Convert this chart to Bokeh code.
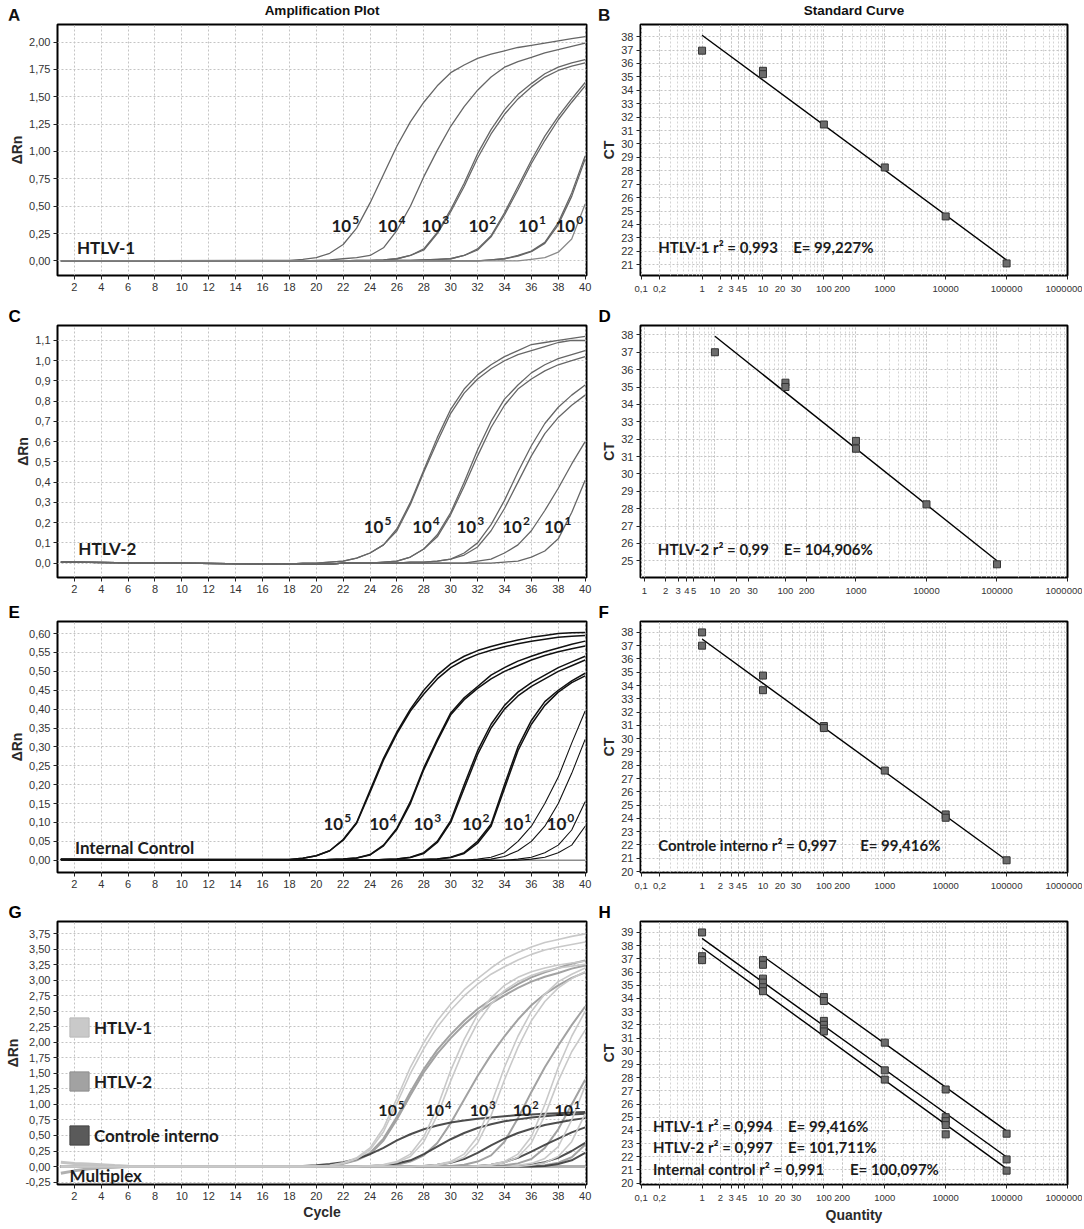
import numpy as np
from bokeh.plotting import figure
from bokeh.models import (Range1d, FixedTicker, CustomJSTickFormatter, Label,
                          Legend, LegendItem, Title, Div)
from bokeh.layouts import column, row
from bokeh.embed import file_html
from bokeh.resources import INLINE

# ----------------------------------------------------------------- data
CYCLES = [1, 18, 19, 20, 21, 22, 23, 24, 25, 26, 27, 28, 29, 30, 31, 32,
          33, 34, 35, 36, 37, 38, 39, 40]
CYCLE_TICKS = [2, 4, 6, 8, 10, 12, 14, 16, 18, 20, 22, 24, 26, 28, 30, 32,
               34, 36, 38, 40]
DILUTION_EXPONENTS = ["5", "4", "3", "2", "1", "0"]   # labels 10^5 ... 10^0

# Panel A - HTLV-1 amplification (delta Rn per cycle)
A_1E5 = [0.0, 0.005, 0.015, 0.03, 0.07, 0.15, 0.3, 0.53, 0.79, 1.05, 1.27, 1.45,
         1.6, 1.72, 1.79, 1.85, 1.89, 1.92, 1.95, 1.97, 1.99, 2.01, 2.03, 2.05]
A_1E4 = [0.0, 0.0, 0.0, 0.005, 0.01, 0.02, 0.03, 0.05, 0.12, 0.28, 0.5, 0.77,
         1.01, 1.23, 1.41, 1.56, 1.68, 1.77, 1.82, 1.86, 1.9, 1.93, 1.96, 1.99]
A_1E3 = [0.0, 0.0, 0.0, 0.0, 0.0, 0.0, 0.005, 0.005, 0.01, 0.02, 0.05, 0.11,
         0.26, 0.47, 0.71, 0.98, 1.2, 1.38, 1.52, 1.62, 1.71, 1.77, 1.81, 1.84]
A_1E3B = [0.0, 0.0, 0.0, 0.0, 0.0, 0.0, 0.005, 0.005, 0.01, 0.02, 0.05, 0.1,
          0.25, 0.45, 0.68, 0.94, 1.16, 1.34, 1.48, 1.59, 1.68, 1.74, 1.78, 1.81]
A_1E2 = [0.0, 0.0, 0.0, 0.0, 0.0, 0.0, 0.0, 0.0, 0.0, 0.005, 0.005, 0.01,
         0.015, 0.02, 0.05, 0.11, 0.23, 0.44, 0.68, 0.92, 1.14, 1.32, 1.48, 1.63]
A_1E2B = [0.0, 0.0, 0.0, 0.0, 0.0, 0.0, 0.0, 0.0, 0.0, 0.005, 0.005, 0.01,
          0.015, 0.02, 0.05, 0.1, 0.22, 0.42, 0.65, 0.89, 1.1, 1.29, 1.45, 1.6]
A_1E1 = [0.0, 0.0, 0.0, 0.0, 0.0, 0.0, 0.0, 0.0, 0.0, 0.0, 0.0, 0.0,
         0.0, 0.0, 0.0, 0.0, 0.01, 0.02, 0.05, 0.09, 0.17, 0.35, 0.62, 0.96]
A_1E1B = [0.0, 0.0, 0.0, 0.0, 0.0, 0.0, 0.0, 0.0, 0.0, 0.0, 0.0, 0.0,
          0.0, 0.0, 0.0, 0.0, 0.01, 0.02, 0.045, 0.085, 0.16, 0.33, 0.59, 0.93]
A_1E0 = [0.0, 0.0, 0.0, 0.0, 0.0, 0.0, 0.0, 0.0, 0.0, 0.0, 0.0, 0.0,
         0.0, 0.0, 0.0, 0.0, 0.0, 0.0, 0.0, 0.015, 0.03, 0.08, 0.2, 0.52]

# Panel C - HTLV-2 amplification
C_1E5 = [0.005, -0.005, 0.0, 0.0, 0.005, 0.01, 0.025, 0.05, 0.09, 0.17, 0.3, 0.46,
         0.62, 0.76, 0.86, 0.93, 0.98, 1.02, 1.05, 1.08, 1.09, 1.1, 1.11, 1.12]
C_1E5B = [0.005, -0.005, 0.0, 0.0, 0.005, 0.01, 0.025, 0.05, 0.09, 0.16, 0.29, 0.45,
          0.6, 0.74, 0.84, 0.91, 0.96, 1.0, 1.03, 1.05, 1.07, 1.09, 1.1, 1.1]
C_1E4 = [0.005, -0.005, -0.005, -0.005, -0.005, 0.0, 0.0, 0.0, 0.005, 0.01, 0.03, 0.07,
         0.14, 0.25, 0.4, 0.56, 0.7, 0.81, 0.88, 0.94, 0.98, 1.01, 1.03, 1.05]
C_1E4B = [0.005, -0.005, -0.005, -0.005, -0.005, 0.0, 0.0, 0.0, 0.005, 0.01, 0.03, 0.07,
          0.13, 0.24, 0.38, 0.53, 0.67, 0.78, 0.86, 0.91, 0.95, 0.98, 1.0, 1.02]
C_1E3 = [0.005, -0.005, -0.005, -0.005, -0.005, 0.0, 0.0, 0.0, 0.0, 0.0, 0.005, 0.005,
         0.01, 0.02, 0.05, 0.1, 0.19, 0.31, 0.45, 0.58, 0.69, 0.77, 0.83, 0.88]
C_1E3B = [0.005, -0.005, -0.005, -0.005, -0.005, 0.0, 0.0, 0.0, 0.0, 0.0, 0.005, 0.005,
          0.01, 0.02, 0.04, 0.08, 0.16, 0.27, 0.4, 0.53, 0.64, 0.72, 0.78, 0.83]
C_1E2 = [0.005, -0.005, -0.005, -0.005, -0.005, 0.0, 0.0, 0.0, 0.0, 0.0, 0.0, 0.0,
         0.0, 0.0, 0.0, 0.01, 0.02, 0.05, 0.09, 0.16, 0.26, 0.37, 0.49, 0.6]
C_1E1 = [0.005, -0.005, -0.005, -0.005, -0.005, 0.0, 0.0, 0.0, 0.0, 0.0, 0.0, 0.0,
         0.0, 0.0, 0.0, 0.0, 0.0, 0.005, 0.01, 0.03, 0.06, 0.12, 0.25, 0.41]

# Panel E - internal control amplification
E_1E5 = [0.002, 0.002, 0.005, 0.012, 0.025, 0.055, 0.1, 0.185, 0.27, 0.34, 0.4, 0.45,
         0.49, 0.52, 0.54, 0.555, 0.566, 0.575, 0.583, 0.59, 0.595, 0.6, 0.602, 0.603]
E_1E5B = [0.002, 0.002, 0.005, 0.012, 0.025, 0.053, 0.098, 0.18, 0.265, 0.335, 0.395, 0.44,
          0.48, 0.51, 0.53, 0.545, 0.556, 0.565, 0.573, 0.58, 0.585, 0.59, 0.593, 0.595]
E_1E4 = [0.002, 0.0, 0.0, 0.0, 0.002, 0.003, 0.006, 0.015, 0.04, 0.085, 0.155, 0.245,
         0.32, 0.39, 0.43, 0.46, 0.49, 0.51, 0.527, 0.54, 0.552, 0.562, 0.572, 0.58]
E_1E4B = [0.002, 0.0, 0.0, 0.0, 0.002, 0.003, 0.006, 0.014, 0.038, 0.082, 0.15, 0.24,
          0.315, 0.385, 0.425, 0.455, 0.48, 0.5, 0.515, 0.53, 0.542, 0.552, 0.56, 0.567]
E_1E3 = [0.002, 0.0, 0.0, 0.0, 0.0, 0.0, 0.0, 0.0, 0.002, 0.003, 0.008, 0.02,
         0.05, 0.105, 0.2, 0.29, 0.36, 0.41, 0.445, 0.47, 0.49, 0.51, 0.525, 0.54]
E_1E3B = [0.002, 0.0, 0.0, 0.0, 0.0, 0.0, 0.0, 0.0, 0.002, 0.003, 0.007, 0.018,
          0.047, 0.1, 0.19, 0.28, 0.35, 0.4, 0.435, 0.46, 0.48, 0.5, 0.515, 0.53]
E_1E2 = [0.002, 0.0, 0.0, 0.0, 0.0, 0.0, 0.0, 0.0, 0.0, 0.0, 0.0, 0.002,
         0.003, 0.008, 0.02, 0.05, 0.095, 0.2, 0.3, 0.37, 0.42, 0.45, 0.475, 0.495]
E_1E2B = [0.002, 0.0, 0.0, 0.0, 0.0, 0.0, 0.0, 0.0, 0.0, 0.0, 0.0, 0.002,
          0.003, 0.007, 0.018, 0.045, 0.09, 0.19, 0.29, 0.36, 0.41, 0.445, 0.47, 0.488]
E_1E1 = [0.002, 0.0, 0.0, 0.0, 0.0, 0.0, 0.0, 0.0, 0.0, 0.0, 0.0, 0.0,
         0.0, 0.0, 0.0, 0.003, 0.008, 0.02, 0.05, 0.09, 0.15, 0.22, 0.31, 0.395]
E_1E1B = [0.002, 0.0, 0.0, 0.0, 0.0, 0.0, 0.0, 0.0, 0.0, 0.0, 0.0, 0.0,
          0.0, 0.0, 0.0, 0.0, 0.003, 0.01, 0.025, 0.05, 0.09, 0.15, 0.23, 0.32]
E_1E0 = [0.002, 0.0, 0.0, 0.0, 0.0, 0.0, 0.0, 0.0, 0.0, 0.0, 0.0, 0.0,
         0.0, 0.0, 0.0, 0.0, 0.0, 0.0, 0.003, 0.008, 0.02, 0.04, 0.08, 0.155]
E_1E0B = [0.002, 0.0, 0.0, 0.0, 0.0, 0.0, 0.0, 0.0, 0.0, 0.0, 0.0, 0.0,
          0.0, 0.0, 0.0, 0.0, 0.0, 0.0, 0.0, 0.003, 0.008, 0.02, 0.04, 0.09]
E_NTC_CYCLES = [1, 40]
E_NTC = [0.0, 0.0]

# Panel G - multiplex (L = HTLV-1, M = HTLV-2, D = internal control)
G_L5A = [0.0, 0.0, 0.0, 0.005, 0.02, 0.06, 0.14, 0.3, 0.62, 1.1, 1.6, 2.0,
         2.35, 2.62, 2.85, 3.03, 3.2, 3.35, 3.45, 3.54, 3.61, 3.66, 3.71, 3.75]
G_L5B = [0.0, 0.0, 0.0, 0.005, 0.015, 0.05, 0.12, 0.27, 0.56, 1.02, 1.5, 1.9,
         2.25, 2.52, 2.75, 2.94, 3.1, 3.22, 3.33, 3.42, 3.49, 3.54, 3.58, 3.62]
G_L4A = [0.0, 0.0, 0.0, 0.0, 0.0, 0.0, 0.0, 0.01, 0.03, 0.08, 0.2, 0.48,
         0.95, 1.55, 2.05, 2.45, 2.72, 2.92, 3.05, 3.14, 3.2, 3.25, 3.28, 3.31]
G_L4B = [0.0, 0.0, 0.0, 0.0, 0.0, 0.0, 0.0, 0.008, 0.025, 0.065, 0.16, 0.4,
         0.82, 1.38, 1.9, 2.32, 2.62, 2.84, 2.98, 3.08, 3.15, 3.2, 3.23, 3.26]
G_L3A = [0.0, 0.0, 0.0, 0.0, 0.0, 0.0, 0.0, 0.0, 0.0, 0.0, 0.0, 0.01,
         0.03, 0.08, 0.2, 0.48, 1.0, 1.6, 2.1, 2.5, 2.78, 2.98, 3.1, 3.2]
G_L3B = [0.0, 0.0, 0.0, 0.0, 0.0, 0.0, 0.0, 0.0, 0.0, 0.0, 0.0, 0.008,
         0.02, 0.06, 0.15, 0.38, 0.82, 1.4, 1.92, 2.35, 2.66, 2.88, 3.03, 3.14]
G_L2A = [0.0, 0.0, 0.0, 0.0, 0.0, 0.0, 0.0, 0.0, 0.0, 0.0, 0.0, 0.0,
         0.0, 0.0, 0.0, 0.01, 0.03, 0.08, 0.2, 0.48, 1.0, 1.6, 2.1, 2.5]
G_L2B = [0.0, 0.0, 0.0, 0.0, 0.0, 0.0, 0.0, 0.0, 0.0, 0.0, 0.0, 0.0,
         0.0, 0.0, 0.0, 0.0, 0.02, 0.06, 0.15, 0.38, 0.82, 1.38, 1.85, 2.2]
G_L1A = [0.0, 0.0, 0.0, 0.0, 0.0, 0.0, 0.0, 0.0, 0.0, 0.0, 0.0, 0.0,
         0.0, 0.0, 0.0, 0.0, 0.0, 0.0, 0.02, 0.05, 0.13, 0.32, 0.75, 1.3]
G_L1B = [0.0, 0.0, 0.0, 0.0, 0.0, 0.0, 0.0, 0.0, 0.0, 0.0, 0.0, 0.0,
         0.0, 0.0, 0.0, 0.0, 0.0, 0.0, 0.0, 0.02, 0.06, 0.16, 0.4, 0.85]
G_M5A = [0.0, 0.0, 0.0, 0.005, 0.02, 0.05, 0.11, 0.22, 0.45, 0.8, 1.2, 1.57,
         1.88, 2.13, 2.35, 2.54, 2.69, 2.81, 2.94, 3.05, 3.13, 3.2, 3.27, 3.32]
G_M5B = [0.0, 0.0, 0.0, 0.005, 0.015, 0.045, 0.1, 0.2, 0.42, 0.76, 1.15, 1.52,
         1.82, 2.07, 2.29, 2.48, 2.63, 2.76, 2.88, 2.98, 3.06, 3.12, 3.19, 3.24]
G_M4 = [0.0, 0.0, 0.0, 0.0, 0.0, 0.0, 0.0, 0.005, 0.01, 0.03, 0.08, 0.18,
        0.38, 0.7, 1.08, 1.46, 1.8, 2.1, 2.37, 2.6, 2.78, 2.92, 3.04, 3.13]
G_M3 = [0.0, 0.0, 0.0, 0.0, 0.0, 0.0, 0.0, 0.0, 0.0, 0.0, 0.0, 0.0,
        0.0, 0.01, 0.03, 0.08, 0.18, 0.4, 0.78, 1.2, 1.6, 1.95, 2.28, 2.58]
G_M2 = [0.0, 0.0, 0.0, 0.0, 0.0, 0.0, 0.0, 0.0, 0.0, 0.0, 0.0, 0.0,
        0.0, 0.0, 0.0, 0.0, 0.0, 0.02, 0.05, 0.12, 0.3, 0.6, 1.0, 1.4]
G_M1 = [0.0, 0.0, 0.0, 0.0, 0.0, 0.0, 0.0, 0.0, 0.0, 0.0, 0.0, 0.0,
        0.0, 0.0, 0.0, 0.0, 0.0, 0.0, 0.0, 0.0, 0.02, 0.06, 0.15, 0.35]
G_D5 = [0.0, 0.005, 0.01, 0.02, 0.04, 0.07, 0.12, 0.2, 0.3, 0.42, 0.52, 0.6,
        0.66, 0.71, 0.74, 0.77, 0.79, 0.81, 0.83, 0.84, 0.85, 0.86, 0.87, 0.88]
G_D4 = [0.0, 0.0, 0.0, 0.0, 0.0, 0.0, 0.005, 0.01, 0.02, 0.05, 0.1, 0.2,
        0.32, 0.44, 0.54, 0.62, 0.68, 0.73, 0.76, 0.79, 0.81, 0.83, 0.84, 0.85]
G_D3 = [0.0, 0.0, 0.0, 0.0, 0.0, 0.0, 0.0, 0.0, 0.0, 0.0, 0.005, 0.01,
        0.03, 0.06, 0.12, 0.22, 0.34, 0.45, 0.54, 0.61, 0.67, 0.71, 0.75, 0.78]
G_D2 = [0.0, 0.0, 0.0, 0.0, 0.0, 0.0, 0.0, 0.0, 0.0, 0.0, 0.0, 0.0,
        0.0, 0.0, 0.005, 0.01, 0.03, 0.07, 0.14, 0.24, 0.35, 0.45, 0.55, 0.63]
G_D1 = [0.0, 0.0, 0.0, 0.0, 0.0, 0.0, 0.0, 0.0, 0.0, 0.0, 0.0, 0.0,
        0.0, 0.0, 0.0, 0.0, 0.0, 0.0, 0.01, 0.03, 0.07, 0.14, 0.25, 0.38]
G_D0 = [0.0, 0.0, 0.0, 0.0, 0.0, 0.0, 0.0, 0.0, 0.0, 0.0, 0.0, 0.0,
        0.0, 0.0, 0.0, 0.0, 0.0, 0.0, 0.0, 0.0, 0.01, 0.04, 0.1, 0.22]
G_BASE_CYCLES = [1, 2, 3, 4, 5, 6, 8, 40]
G_BASE_HI = [0.07, 0.05, 0.04, 0.03, 0.015, 0.005, 0.0, 0.0]
G_BASE_LO = [-0.11, -0.07, -0.04, -0.02, -0.01, 0.0, 0.0, 0.0]
G_LEGEND = ["HTLV-1", "HTLV-2", "Controle interno"]

# Standard curves: quantity (copies) vs CT
B_QTY = [1, 10, 10, 100, 1000, 10000, 100000]
B_CT = [36.95, 35.45, 35.2, 31.45, 28.25, 24.6, 21.1]
B_FIT = (-3.35, 38.1)            # slope per decade, intercept at 1 copy
D_QTY = [10, 100, 100, 1000, 1000, 10000, 100000]
D_CT = [37.0, 35.25, 35.0, 31.9, 31.45, 28.25, 24.8]
D_FIT = (-3.23, 41.15)
F_QTY = [1, 1, 10, 10, 100, 100, 1000, 10000, 10000, 100000]
F_CT = [38.0, 37.0, 34.75, 33.65, 30.95, 30.8, 27.6, 24.3, 24.05, 20.85]
F_FIT = (-3.33, 37.5)
H_HTLV1_QTY = [10, 10, 100, 100, 1000, 10000, 100000]
H_HTLV1_CT = [36.9, 36.55, 34.1, 33.8, 30.65, 27.1, 23.75]
H_HTLV1_FIT = (-3.31, 40.51)
H_HTLV2_QTY = [1, 10, 10, 100, 100, 1000, 10000, 10000, 100000]
H_HTLV2_CT = [39.0, 35.5, 35.2, 32.3, 32.0, 28.55, 25.0, 24.7, 21.8]
H_HTLV2_FIT = (-3.314, 38.55)
H_IC_QTY = [1, 1, 10, 10, 100, 100, 1000, 10000, 10000, 100000]
H_IC_CT = [37.2, 36.9, 34.85, 34.55, 31.7, 31.5, 27.85, 24.4, 23.7, 20.95]
H_IC_FIT = (-3.348, 37.84)

LOG_TICKS = [0.1, 0.2, 1, 2, 3, 4, 5, 10, 20, 30, 100, 200, 1000, 10000,
             100000, 1000000]
D_LOG_TICKS = [1, 2, 3, 4, 5, 10, 20, 30, 100, 200, 1000, 10000, 100000, 1000000]
A_YTICKS = [0.0, 0.25, 0.5, 0.75, 1.0, 1.25, 1.5, 1.75, 2.0]
C_YTICKS = [0.0, 0.1, 0.2, 0.3, 0.4, 0.5, 0.6, 0.7, 0.8, 0.9, 1.0, 1.1]
E_YTICKS = [0.0, 0.05, 0.1, 0.15, 0.2, 0.25, 0.3, 0.35, 0.4, 0.45, 0.5, 0.55, 0.6]
G_YTICKS = [-0.25, 0.0, 0.25, 0.5, 0.75, 1.0, 1.25, 1.5, 1.75, 2.0, 2.25, 2.5,
            2.75, 3.0, 3.25, 3.5, 3.75]
B_YTICKS = list(range(21, 39))
D_YTICKS = list(range(25, 39))
F_YTICKS = list(range(20, 39))
H_YTICKS = list(range(20, 40))

# ----------------------------------------------------------------- layout
LW, RW = 598, 484
BL_L, BR_L, BL_R, BR_R = 57, 12, 42, 15
HEADER_H = 20
ROWS = [(284, 4, 29), (296, 20, 23), (296, 20, 24), (329, 25, 40)]
TICK_FONT = "Liberation Sans"
ANN_FONT = "Lato"
GRID = "#c4c4c4"


def base_fig(w, h, bl, br, bt, bb, xr, yr, log=False):
    p = figure(width=w, height=h, x_range=xr, y_range=yr,
               x_axis_type="log" if log else "linear",
               output_backend="svg", toolbar_location=None, title=None,
               min_border_left=bl, min_border_right=br,
               min_border_top=bt, min_border_bottom=bb)
    p.outline_line_color = "black"
    p.outline_line_width = 2
    p.outline_line_alpha = 1.0
    for ax in (p.xaxis, p.yaxis):
        ax.axis_line_color = None
        ax.major_tick_line_color = "#222222"
        ax.major_tick_out = 4
        ax.major_tick_in = 0
        ax.minor_tick_line_color = None
        ax.major_label_text_font = TICK_FONT
        ax.major_label_text_font_size = "11px"
        ax.major_label_text_color = "#333333"
        ax.major_label_standoff = 3
        ax.axis_label_text_font = TICK_FONT
        ax.axis_label_text_font_style = "bold"
        ax.axis_label_text_font_size = "14px"
        ax.axis_label_text_color = "#2a2a2a"
        ax.axis_label_standoff = 1
    for g in (p.xgrid, p.ygrid):
        g.grid_line_color = GRID
        g.grid_line_dash = "2 2"
        g.grid_line_width = 1
    return p


def label(p, x, y, text, size="16px", font=ANN_FONT, style="bold", align="left",
          baseline="middle", xo=0, yo=0, color="#1c1c1c"):
    p.add_layout(Label(x=x, y=y, text=text, text_font=font, text_font_style=style,
                       text_font_size=size, text_align=align, text_baseline=baseline,
                       x_offset=xo, y_offset=yo, text_color=color))


def power_label(p, cx, y, exponent, size=16):
    # "10" followed by a raised, smaller exponent, centred as a pair on cx
    label(p, cx, y, "10", size=f"{size}px", align="right", xo=4)
    label(p, cx, y, exponent, size=f"{round(size * 0.68)}px", align="left", xo=5,
          yo=round(size * 0.33))


def letter_title(p, letter, bl):
    if letter:
        p.add_layout(Title(text=letter, align="left", offset=-(bl - 8) if bl > 50 else -bl,
                           text_font=TICK_FONT, text_font_style="bold",
                           text_font_size="17px", text_color="black", standoff=0),
                     "above")


def amp_fig(r, ylo, yhi, yticks, ndec, letter, xlabel=None):
    h, bt, bb = ROWS[r]
    p = base_fig(LW, h, BL_L, BR_L, bt, bb, Range1d(0.75, 40.1), Range1d(ylo, yhi))
    xt = FixedTicker(ticks=CYCLE_TICKS)
    yt = FixedTicker(ticks=yticks)
    p.xaxis.ticker = xt
    p.xgrid.ticker = xt
    p.yaxis.ticker = yt
    p.ygrid.ticker = yt
    p.yaxis.formatter = CustomJSTickFormatter(
        code=f"return tick.toFixed({ndec}).replace('.', ',');")
    p.yaxis.axis_label = "ΔRn"
    if xlabel:
        p.xaxis.axis_label = xlabel
    letter_title(p, letter, BL_L)
    return p


LOG_FMT = """
if (tick < 1) { return String(tick).replace('.', ','); }
if (Math.abs(tick - 30) < 1e-9) { return '\\u00a0\\u00a0\\u00a030'; }
if (Math.abs(tick - 20) < 1e-9) { return '20\\u00a0'; }
return tick.toFixed(0);
"""


def std_fig(r, xlo, xhi, ylo, yhi, xticks, yticks, letter, xlabel=None):
    h, bt, bb = ROWS[r]
    p = base_fig(RW, h, BL_R, BR_R, bt, bb, Range1d(xlo, xhi), Range1d(ylo, yhi), log=True)
    minor = [m * 10.0 ** k for k in range(-1, 7) for m in range(1, 10)]
    xt = FixedTicker(ticks=xticks, minor_ticks=minor)
    p.xaxis.ticker = xt
    p.xgrid.ticker = xt
    p.xgrid.minor_grid_line_color = "#d4d4d4"
    p.xgrid.minor_grid_line_dash = "2 2"
    yt = FixedTicker(ticks=yticks)
    p.yaxis.ticker = yt
    p.ygrid.ticker = yt
    p.xaxis.formatter = CustomJSTickFormatter(code=LOG_FMT)
    p.xaxis.major_label_text_font_size = "9.5px"
    p.yaxis.axis_label = "CT"
    if xlabel:
        p.xaxis.axis_label = xlabel
    letter_title(p, letter, BL_R)
    return p


def std_series(p, qty, ct, fit, line_color="black"):
    slope, icpt = fit
    qx = [min(qty), max(qty)]
    p.line(qx, [icpt + slope * np.log10(q) for q in qx], line_color=line_color,
           line_width=1.4)
    p.scatter(qty, ct, marker="square", size=7, fill_color="#6c6c6c",
              line_color="#333333", line_width=1)


# ----------------------------------------------------------------- header
HEAD_STYLE = ("position:absolute;font-family:'Liberation Sans',Arial,sans-serif;"
              "font-weight:bold;color:#111;white-space:nowrap;")
header = Div(
    text=(f'<div style="position:relative;width:1082px;height:{HEADER_H}px;">'
          f'<span style="{HEAD_STYLE}left:8px;top:4px;font-size:17px;">A</span>'
          f'<span style="{HEAD_STYLE}left:322px;top:1px;font-size:13.5px;'
          f'transform:translateX(-50%);">Amplification Plot</span>'
          f'<span style="{HEAD_STYLE}left:598px;top:4px;font-size:17px;">B</span>'
          f'<span style="{HEAD_STYLE}left:854px;top:1px;font-size:13.5px;'
          f'transform:translateX(-50%);">Standard Curve</span></div>'),
    width=LW + RW, height=HEADER_H, margin=(0, 0, 0, 0))

# ----------------------------------------------------------------- A
pa = amp_fig(0, -0.133, 2.16, A_YTICKS, 2, None)
for ys in [A_1E5, A_1E4, A_1E3, A_1E3B, A_1E2, A_1E2B, A_1E1, A_1E1B]:
    pa.line(CYCLES, ys, line_color="#666666", line_width=1.3)
pa.line(CYCLES, A_1E0, line_color="#8a8a8a", line_width=1.3)
for ex, cx in zip(DILUTION_EXPONENTS, [22.3, 25.75, 29.0, 32.5, 36.2, 38.96]):
    power_label(pa, cx, 0.32, ex, 17)
label(pa, 2.2, 0.12, "HTLV-1", size="17px")

# ----------------------------------------------------------------- B
pb = std_fig(0, 0.0975, 1e6, 20.2, 38.9, LOG_TICKS, B_YTICKS, None)
std_series(pb, B_QTY, B_CT, B_FIT)
label(pb, 0.19, 22.3, "HTLV-1 r² = 0,993", size="15px")
label(pb, 0.19, 22.3, "E= 99,227%", size="15px", xo=135)

# ----------------------------------------------------------------- C
pc = amp_fig(1, -0.071, 1.174, C_YTICKS, 1, "C")
for ys in [C_1E5, C_1E5B, C_1E4, C_1E4B, C_1E3, C_1E3B, C_1E2, C_1E1]:
    pc.line(CYCLES, ys, line_color="#666666", line_width=1.3)
for ex, cx in zip(DILUTION_EXPONENTS[:5], [24.7, 28.3, 31.6, 35.0, 38.1]):
    power_label(pc, cx, 0.18, ex, 17)
label(pc, 2.3, 0.07, "HTLV-2", size="17px")

# ----------------------------------------------------------------- D
pd_ = std_fig(1, 0.88, 1e6, 24.04, 38.54, D_LOG_TICKS, D_YTICKS, "D")
std_series(pd_, D_QTY, D_CT, D_FIT)
label(pd_, 1.55, 25.67, "HTLV-2 r² = 0,99", size="15px")
label(pd_, 1.55, 25.67, "E= 104,906%", size="15px", xo=126)

# ----------------------------------------------------------------- E
pe = amp_fig(2, -0.0325, 0.632, E_YTICKS, 2, "E")
pe.line(E_NTC_CYCLES, E_NTC, line_color="#8c8c8c", line_width=1.5)
for ys in [E_1E5, E_1E5B, E_1E4, E_1E4B, E_1E3, E_1E3B, E_1E2, E_1E2B]:
    pe.line(CYCLES, ys, line_color="#111111", line_width=1.5)
for ys in [E_1E1, E_1E1B, E_1E0, E_1E0B]:
    pe.line(CYCLES, ys, line_color="#111111", line_width=1.1)
for ex, cx in zip(DILUTION_EXPONENTS, [21.7, 25.1, 28.4, 32.0, 35.1, 38.3]):
    power_label(pe, cx, 0.095, ex, 17)
label(pe, 2.05, 0.035, "Internal Control", size="17px")

# ----------------------------------------------------------------- F
pf = std_fig(2, 0.0975, 1e6, 19.93, 38.82, LOG_TICKS, F_YTICKS, "F")
std_series(pf, F_QTY, F_CT, F_FIT)
label(pf, 0.19, 22.0, "Controle interno r² = 0,997", size="15px")
label(pf, 0.19, 22.0, "E= 99,416%", size="15px", xo=202)

# ----------------------------------------------------------------- G
pg = amp_fig(3, -0.29, 3.95, G_YTICKS, 2, "G", xlabel="Cycle")
C_H1, C_H2, C_IC = "#c9c9c9", "#a2a2a2", "#3a3a3a"
pg.line(G_BASE_CYCLES, G_BASE_HI, line_color="#c4c4c4", line_width=3)
pg.line(G_BASE_CYCLES, G_BASE_LO, line_color="#b0b0b0", line_width=3)
for ys in [G_M5A, G_M5B, G_M4, G_M3, G_M2, G_M1]:
    pg.line(CYCLES, ys, line_color=C_H2, line_width=2)
for ys in [G_D5, G_D4, G_D3, G_D2, G_D1, G_D0]:
    pg.line(CYCLES, ys, line_color=C_IC, line_width=2, line_alpha=0.9)
for ys in [G_L5A, G_L5B, G_L4A, G_L4B, G_L3A, G_L3B, G_L2A, G_L2B, G_L1A, G_L1B]:
    pg.line(CYCLES, ys, line_color=C_H1, line_width=1.6)
for ex, cx in zip(DILUTION_EXPONENTS[:5], [25.7, 29.2, 32.5, 35.7, 38.8]):
    power_label(pg, cx, 0.91, ex, 16)
label(pg, 1.65, -0.14, "Multiplex", size="17px")
items = []
for name, col, edge in zip(G_LEGEND, [C_H1, C_H2, "#5a5a5a"],
                           ["#b8b8b8", "#8e8e8e", "#444444"]):
    r = pg.quad(left=[np.nan], right=[np.nan], top=[np.nan], bottom=[np.nan],
                fill_color=col, line_color=edge)
    items.append(LegendItem(label=name, renderers=[r], index=0))
leg = Legend(items=items, location=(10, 37), glyph_width=24, glyph_height=24,
             spacing=30, padding=0, margin=0, label_standoff=3,
             label_text_font=ANN_FONT, label_text_font_style="bold",
             label_text_font_size="17px", label_text_color="#1c1c1c",
             background_fill_alpha=0, border_line_color=None)
pg.add_layout(leg)

# ----------------------------------------------------------------- H
ph = std_fig(3, 0.0975, 1e6, 19.9, 39.83, LOG_TICKS, H_YTICKS, "H", xlabel="Quantity")
std_series(ph, H_HTLV1_QTY, H_HTLV1_CT, H_HTLV1_FIT)
std_series(ph, H_HTLV2_QTY, H_HTLV2_CT, H_HTLV2_FIT)
std_series(ph, H_IC_QTY, H_IC_CT, H_IC_FIT)
label(ph, 0.156, 24.34, "HTLV-1 r² = 0,994", size="15px")
label(ph, 0.156, 24.34, "E= 99,416%", size="15px", xo=135)
label(ph, 0.156, 22.71, "HTLV-2 r² = 0,997", size="15px")
label(ph, 0.156, 22.71, "E= 101,711%", size="15px", xo=135)
label(ph, 0.156, 21.07, "Internal control r² = 0,991", size="15px")
label(ph, 0.156, 21.07, "E= 100,097%", size="15px", xo=197)

layout = column(header, row(pa, pb), row(pc, pd_), row(pe, pf), row(pg, ph))
open("out.html", "w").write(file_html(layout, INLINE))
